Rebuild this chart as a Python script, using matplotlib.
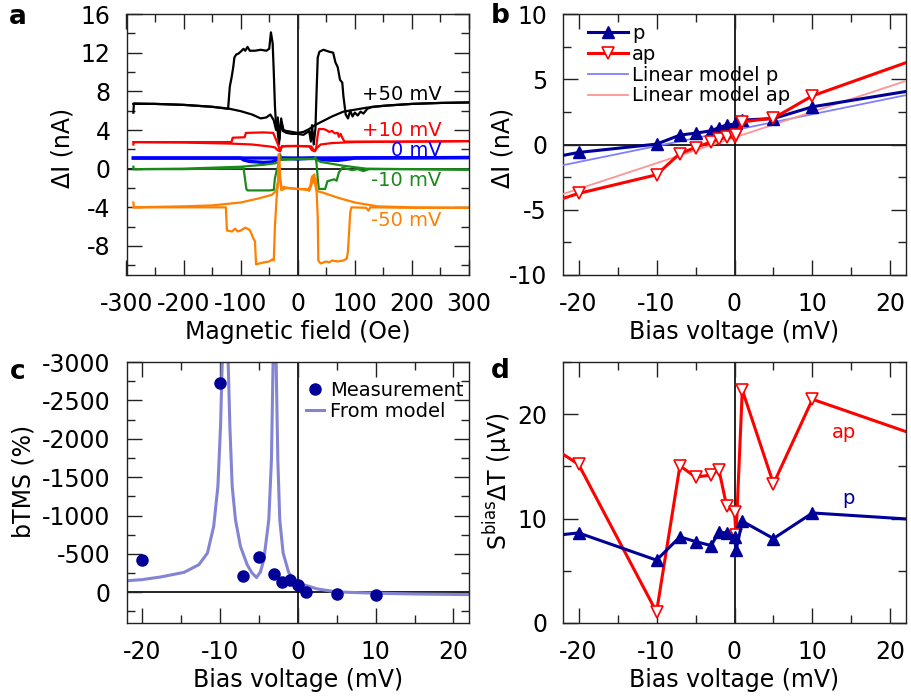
import numpy as np
import matplotlib
matplotlib.use('Agg')
import matplotlib.pyplot as plt
from matplotlib.ticker import MultipleLocator

plt.rcParams['font.family'] = 'DejaVu Sans'
plt.rcParams['mathtext.fontset'] = 'dejavusans'
plt.rcParams['axes.unicode_minus'] = False

# --- (a) field sweeps, (field Oe, delta I nA), two branches per bias ---
sweep_50_a = [(-288, 5.8), (-287, 6.75), (-250, 6.7), (-200, 6.6), (-150, 6.4), (-120, 6.2),
              (-100, 5.95), (-80, 5.6), (-65, 5.2), (-55, 5.3), (-48, 5.6), (-42, 5.0), (-38, 4.0),
              (-35, 5.3), (-32, 3.0), (-29, 5.2), (-26, 3.9), (-20, 3.7), (-10, 3.6), (0, 3.6),
              (10, 3.5), (20, 3.9), (23, 2.8), (25, 4.5), (28, 2.5), (31, 4.2), (33, 8.0),
              (35, 11.5), (38, 12.1), (45, 12.3), (55, 12.1), (62, 12.0), (66, 11.0), (70, 10.5),
              (74, 9.2), (78, 8.9), (80, 7.5), (84, 5.6), (88, 5.2), (92, 6.0), (96, 5.4),
              (100, 5.8), (105, 5.5), (110, 5.9), (115, 5.7), (122, 6.2), (130, 6.4), (160, 6.55),
              (200, 6.7), (250, 6.8), (300, 6.85)]
sweep_50_b = [(-288, 6.7), (-250, 6.7), (-200, 6.6), (-150, 6.4), (-122, 6.2), (-119, 8.5),
              (-116, 9.4), (-113, 10.5), (-111, 11.5), (-108, 11.8), (-104, 11.9), (-100, 12.1),
              (-95, 12.4), (-92, 12.2), (-88, 12.6), (-84, 12.2), (-75, 12.2), (-65, 12.3),
              (-55, 12.2), (-50, 12.4), (-47, 14.1), (-44, 13.0), (-42, 10.0), (-40, 6.5),
              (-38, 4.5), (-35, 3.8), (-33, 2.5), (-31, 4.0), (-28, 4.8), (-25, 4.0), (-20, 3.9),
              (-10, 3.8), (0, 3.7), (10, 3.8), (20, 4.1), (30, 4.5), (40, 4.8), (60, 5.4),
              (80, 5.9), (100, 6.1), (120, 6.3), (150, 6.5), (200, 6.7), (250, 6.8), (300, 6.85)]

sweep_10_a = [(-288, 2.5), (-287, 2.75), (-200, 2.75), (-116, 2.75), (-114, 3.2), (-93, 3.25),
              (-91, 3.7), (-60, 3.75), (-43, 3.7), (-38, 3.0), (-34, 2.4), (-31, 1.8), (-28, 2.3),
              (-20, 2.35), (0, 2.35), (20, 2.3), (25, 1.9), (30, 1.8), (33, 2.1), (40, 2.5),
              (60, 2.65), (100, 2.75), (200, 2.8), (300, 2.85)]
sweep_10_b = [(-288, 2.75), (-200, 2.7), (-120, 2.6), (-80, 2.5), (-50, 2.3), (-40, 2.2),
              (-35, 1.9), (-31, 1.8), (-28, 2.3), (0, 2.35), (24, 2.3), (28, 1.9), (32, 2.0),
              (35, 3.5), (37, 4.1), (45, 4.1), (50, 4.0), (55, 3.8), (60, 3.9), (65, 3.65),
              (70, 3.7), (72, 3.3), (75, 3.6), (78, 3.2), (82, 2.8), (100, 2.8), (200, 2.8),
              (300, 2.85)]

sweep_0_a = [(-288, 1.1), (-100, 1.1), (-95, 0.9), (-85, 0.75), (-60, 0.65), (-45, 0.7),
             (-38, 0.9), (-30, 1.1), (0, 1.1), (300, 1.15)]
sweep_0_b = [(-288, 1.1), (-30, 1.1), (0, 1.0), (30, 1.1), (35, 0.95), (50, 0.9), (70, 0.85),
             (90, 1.0), (100, 1.1), (300, 1.15)]

sweep_m10_a = [(-288, 0.2), (-287, -0.05), (-200, -0.05), (-100, 0.05), (-95, 0.1), (-93, -0.8),
               (-90, -2.1), (-88, -2.25), (-50, -2.25), (-42, -2.2), (-40, -1.0), (-37, -0.2),
               (-34, 0.3), (-31, 1.5), (-29, 0.9), (-25, 1.0), (0, 1.0), (25, 1.0), (30, 1.0),
               (40, 0.7), (60, 0.5), (80, 0.3), (120, 0.0), (200, -0.05), (300, -0.1)]
sweep_m10_b = [(-288, -0.05), (-200, 0.0), (-100, 0.2), (-60, 0.4), (-40, 0.55), (-33, 0.7),
               (-31, 1.4), (-29, 0.9), (0, 1.0), (28, 1.0), (31, 1.2), (33, 0.5), (35, -1.0),
               (37, -2.1), (48, -2.1), (52, -1.3), (58, -1.2), (64, -1.1), (68, -1.25),
               (72, -0.4), (78, 0.1), (85, 0.0), (95, -0.15), (105, -0.05), (115, -0.25),
               (125, -0.05), (200, -0.05), (300, -0.1)]

sweep_m50_a = [(-288, -3.5), (-287, -4.0), (-200, -4.0), (-126, -4.0), (-124, -6.4), (-115, -6.5),
               (-110, -6.2), (-105, -6.5), (-100, -6.4), (-92, -6.1), (-85, -6.3), (-82, -6.6),
               (-78, -7.2), (-75, -7.5), (-73, -9.9), (-60, -9.7), (-50, -9.6), (-45, -9.4),
               (-42, -9.5), (-40, -6.0), (-37, -3.0), (-34, -1.0), (-33, 1.5), (-31, -1.0),
               (-29, -2.2), (-25, -1.9), (-15, -2.0), (0, -2.1), (15, -2.1), (20, -2.3),
               (24, -1.7), (27, -0.7), (29, -1.5), (31, -1.0), (33, -2.3), (45, -2.5),
               (70, -3.0), (100, -3.5), (140, -3.9), (200, -4.0), (300, -4.05)]
sweep_m50_b = [(-288, -4.0), (-200, -3.9), (-150, -3.8), (-100, -3.5), (-70, -3.1), (-45, -2.7),
               (-38, -2.3), (-34, -1.2), (-33, 1.5), (-31, -0.8), (-28, -2.2), (-20, -2.0),
               (0, -2.1), (18, -2.2), (22, -1.8), (25, -0.8), (27, -1.2), (29, -0.6), (31, -1.8),
               (33, -2.3), (35, -5.0), (36, -9.5), (40, -9.8), (50, -9.6), (55, -9.7), (60, -9.5),
               (70, -9.6), (80, -9.5), (86, -9.3), (88, -8.5), (92, -4.5), (94, -4.0),
               (120, -4.05), (124, -4.35), (127, -4.0), (200, -4.05), (300, -4.05)]

bias_labels = ['+50 mV', '+10 mV', '0 mV', '-10 mV', '-50 mV']
bias_colors = ['black', '#ff0000', '#0000ff', '#1a8a1a', '#ff8000']
label_y = [7.7, 4.0, 1.9, -1.2, -5.4]

# --- (b), (d) bias dependence ---
bias_mv = [-50, -20, -10, -7, -5, -3, -2, -1, 0, 0.2, 1, 5, 10, 50]
di_p = [-4.0, -0.61, 0.03, 0.72, 0.87, 1.05, 1.3, 1.49, 1.55, 1.61, 1.87, 1.99, 2.89, 6.8]
di_ap = [-9.5, -3.75, -2.32, -0.69, -0.23, 0.2, 0.41, 0.54, 0.6, 0.75, 1.74, 2.02, 3.73, 12.2]
s_p = [6.2, 8.63, 6.02, 8.25, 7.8, 7.42, 8.7, 8.63, 8.25, 6.97, 9.75, 8.09, 10.54, 8.64]
s_ap = [29.9, 15.19, 1.05, 15.06, 13.98, 14.17, 14.68, 11.18, 10.64, 8.47, 22.32, 13.34, 21.43, 11.1]

# linear models: (slope nA/mV, offset nA)
lin_p = (0.122, 1.10)
lin_ap = (0.197, 0.54)

# --- (c) bTMS ---
btms_bias = [-20, -10, -7, -5, -3, -2, -1, 0, 1, 5, 10]
btms = [-425, -2725, -208, -460, -232, -130, -156, -100, -5, 17, 39]
model_bias = [-22, -20, -17.6, -14.6, -12.7, -11.6, -10.8, -10.26, -9.92, -9.7, -9.3, -8.94,
              -8.72, -8.42, -8.0, -7.36, -6.5, -5.9, -5.3, -4.8, -4.36, -3.72, -3.38, -3.17,
              -2.95, -2.78, -2.56, -2.31, -1.88, -1.15, 0, 2.5, 5, 10, 15, 22]
model_btms = [-150, -165, -200, -260, -360, -512, -858, -1378, -2158, -3000, -6000, -3000,
              -2158, -1378, -944, -598, -360, -255, -192, -265, -425, -944, -1725, -3000,
              -6000, -3000, -1725, -944, -512, -252, -122, -44, -5, 12, 22, 30]

navy = '#000099'
red = '#ff0000'
lav = '#8484d4'

fig = plt.figure(figsize=(9.11, 6.97), dpi=100)
W, H = 911, 697


def axes_px(x0, x1, y0, y1):
    return fig.add_axes([x0 / W, 1 - y1 / H, (x1 - x0) / W, (y1 - y0) / H])


def style(ax, xmaj, xmin, ymaj, ymin):
    ax.xaxis.set_major_locator(MultipleLocator(xmaj))
    ax.xaxis.set_minor_locator(MultipleLocator(xmin))
    ax.yaxis.set_major_locator(MultipleLocator(ymaj))
    ax.yaxis.set_minor_locator(MultipleLocator(ymin))
    ax.tick_params(which='both', direction='in', top=True, right=True, width=1.0, color='#222222')
    ax.tick_params(which='major', length=11, labelsize=17)
    ax.tick_params(which='minor', length=5.5)
    ax.tick_params(axis='x', pad=12)
    ax.tick_params(axis='y', pad=11.5)
    for sp in ax.spines.values():
        sp.set_linewidth(1.0)
        sp.set_color('#222222')


ax_a = axes_px(126.5, 469, 14, 275)
ax_b = axes_px(563, 906, 14, 275)
ax_c = axes_px(126.5, 469, 362, 623)
ax_d = axes_px(563, 906, 362, 623)

# (a)
ax_a.axvline(0, color='black', lw=1.2, zorder=1)
ax_a.axhline(0, color='black', lw=1.2, zorder=1)
sweeps = [(sweep_50_a, sweep_50_b), (sweep_10_a, sweep_10_b), (sweep_0_a, sweep_0_b),
          (sweep_m10_a, sweep_m10_b), (sweep_m50_a, sweep_m50_b)]
for (s1, s2), col, lab, ly in zip(sweeps, bias_colors, bias_labels, label_y):
    lw = 2.4 if lab == '0 mV' else 1.6
    for s in (s1, s2):
        h, i = np.array(s).T
        ax_a.plot(h, i, color=col, lw=lw, zorder=2)
    ax_a.text(252, ly, lab, color=col, fontsize=14, ha='right', va='center')
ax_a.set_xlim(-300, 300)
ax_a.set_ylim(-11, 16)
style(ax_a, 100, 50, 4, 2)
ax_a.set_xlabel('Magnetic field (Oe)', fontsize=17, labelpad=3)
ax_a.set_ylabel('ΔI (nA)', fontsize=17)
ax_a.yaxis.set_label_coords(-0.153, 0.485)

# (b)
ax_b.axvline(0, color='black', lw=1.2, zorder=1)
ax_b.axhline(0, color='black', lw=1.2, zorder=1)
v_ends = np.array([-22, 22])
ax_b.plot(bias_mv, di_p, color=navy, lw=2.2, marker='^', ms=9, mfc=navy, mec=navy, label='p', zorder=4)
ax_b.plot(bias_mv, di_ap, color=red, lw=2.2, marker='v', ms=9, mfc='white', mec=red, mew=1.2,
          label='ap', zorder=4)
ax_b.plot(v_ends, lin_p[0] * v_ends + lin_p[1], color='#7f7fff', lw=1.3, label='Linear model p', zorder=3)
ax_b.plot(v_ends, lin_ap[0] * v_ends + lin_ap[1], color='#ff9494', lw=1.3, label='Linear model ap', zorder=3)
ax_b.set_xlim(-22, 22)
ax_b.set_ylim(-10, 10)
style(ax_b, 10, 5, 5, 2.5)
ax_b.set_xlabel('Bias voltage (mV)', fontsize=17, labelpad=3)
ax_b.set_ylabel('ΔI (nA)', fontsize=17)
ax_b.yaxis.set_label_coords(-0.140, 0.487)
ax_b.legend(loc='upper left', bbox_to_anchor=(0.073, 0.963), frameon=False, fontsize=14,
            handlelength=2.06, handletextpad=0.2, labelspacing=0.1, borderpad=0, borderaxespad=0)

# (c)
ax_c.axvline(0, color='black', lw=1.2, zorder=1)
ax_c.axhline(0, color='black', lw=1.2, zorder=1)
ax_c.plot(model_bias, model_btms, color=lav, lw=2.2, label='From model', zorder=2)
ax_c.plot(btms_bias, btms, 'o', color=navy, ms=8, label='Measurement', zorder=3)
ax_c.set_xlim(-22, 22)
ax_c.set_ylim(400, -3000)
style(ax_c, 10, 5, 500, 250)
ax_c.set_xlabel('Bias voltage (mV)', fontsize=17, labelpad=3)
ax_c.set_ylabel('bTMS (%)', fontsize=17)
ax_c.yaxis.set_label_coords(-0.267, 0.541)
hc, lc = ax_c.get_legend_handles_labels()
ax_c.legend(hc[::-1], lc[::-1], loc='upper left', bbox_to_anchor=(0.524, 0.927), frameon=False,
            fontsize=14, handlelength=0.93, handletextpad=0.3, labelspacing=0.1, borderpad=0,
            borderaxespad=0)

# (d)
ax_d.axvline(0, color='black', lw=1.2, zorder=1)
ax_d.plot(bias_mv, s_ap, color=red, lw=2.2, marker='v', ms=9, mfc='white', mec=red, mew=1.2, zorder=3)
ax_d.plot(bias_mv, s_p, color=navy, lw=2.2, marker='^', ms=9, mfc=navy, mec=navy, zorder=4)
ax_d.text(14, 18.2, 'ap', color=red, fontsize=14, ha='center', va='center')
ax_d.text(14.6, 11.9, 'p', color=navy, fontsize=14, ha='center', va='center')
ax_d.set_xlim(-22, 22)
ax_d.set_ylim(0, 25)
style(ax_d, 10, 5, 10, 5)
ax_d.set_xlabel('Bias voltage (mV)', fontsize=17, labelpad=3)
ax_d.set_ylabel('S$^{\\mathrm{bias}}$ΔT (μV)', fontsize=17)
ax_d.yaxis.set_label_coords(-0.140, 0.542)

for txt, x, y in [('a', 18, 17), ('b', 500, 16), ('c', 18, 372), ('d', 500, 371)]:
    fig.text(x / W, 1 - y / H, txt, fontsize=19, fontweight='bold', ha='center', va='center')

fig.savefig('out.png', dpi=100)
